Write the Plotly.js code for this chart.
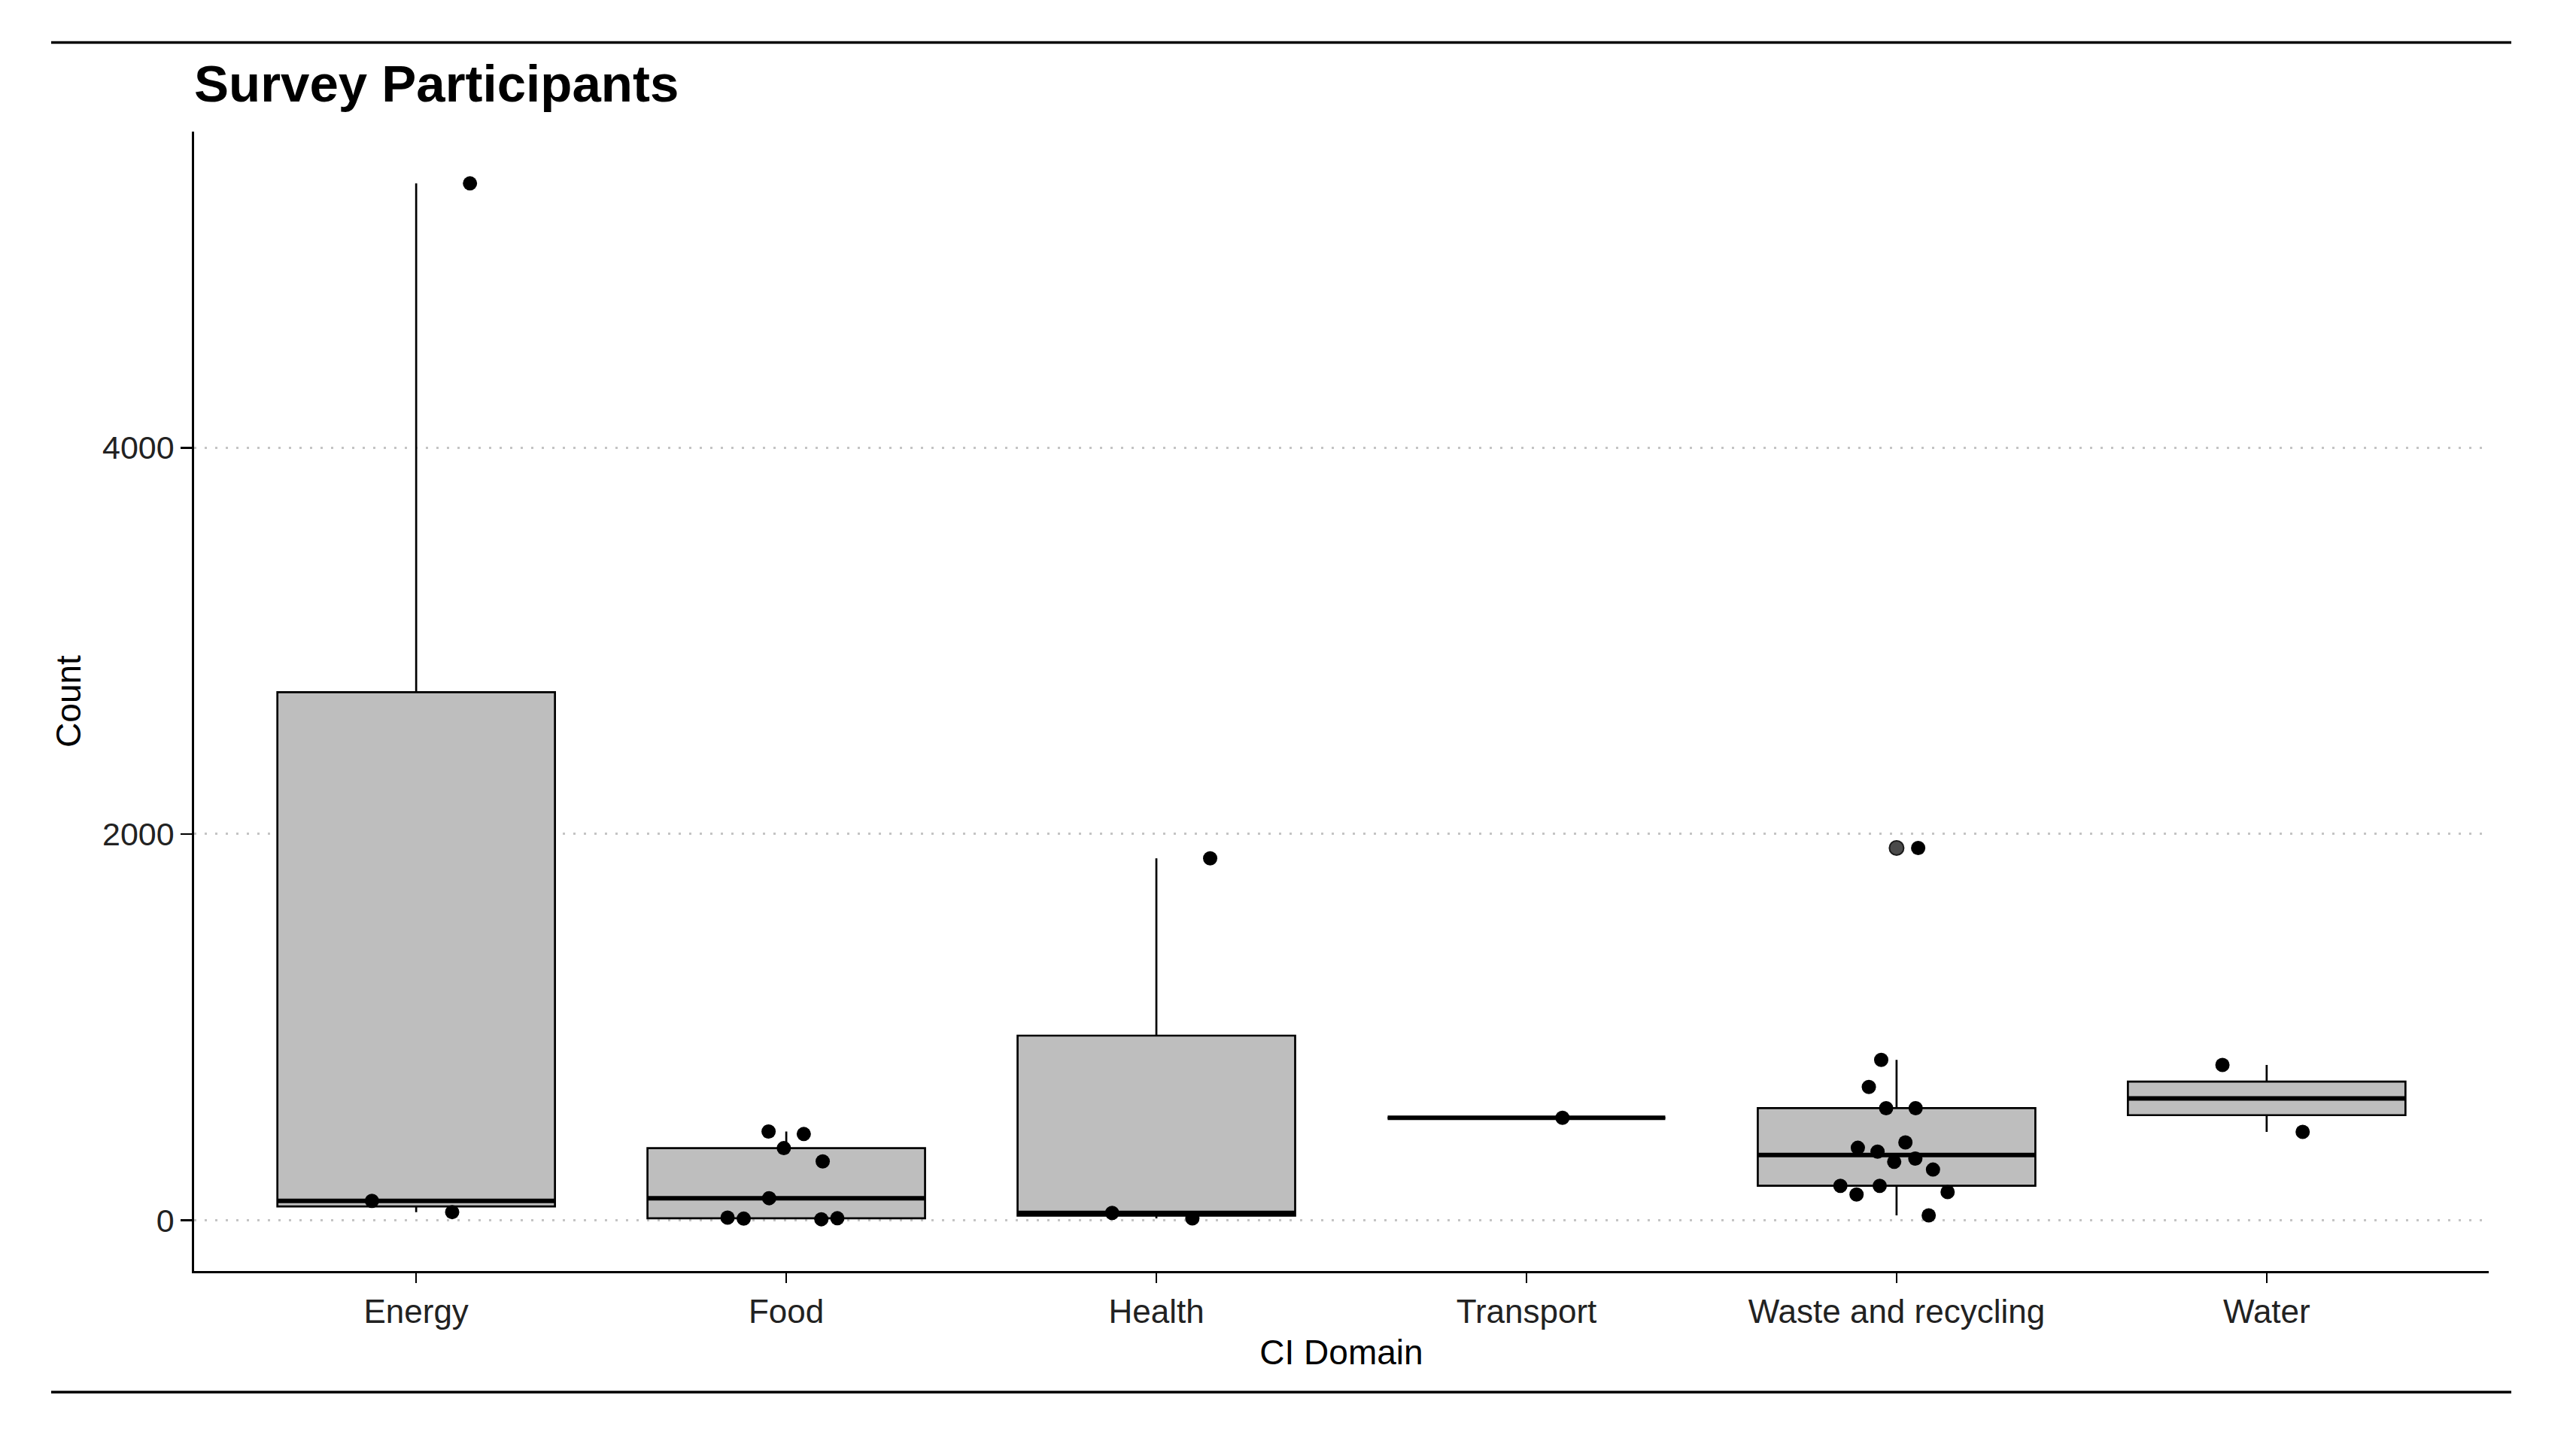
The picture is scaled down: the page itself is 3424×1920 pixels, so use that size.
<!DOCTYPE html>
<html>
<head>
<meta charset="utf-8">
<script src="https://cdn.plot.ly/plotly-3.0.1.min.js"></script>
<style>html,body{margin:0;padding:0;background:#fff;}#chart{width:3424px;height:1920px;}</style>
</head>
<body>
<div id="chart"></div>
<script>
// ---- data ----
const categories = ['Energy', 'Food', 'Health', 'Transport', 'Waste and recycling', 'Water'];
const energy = [43, 101, 5368];
const food = [6, 9, 11, 14, 115, 305, 374, 447, 460];
const health = [10, 39, 1874];
const transport = [531];
const waste = [26, 134, 147, 179, 179, 263, 303, 320, 356, 376, 404, 581, 581, 691, 831, 1928];
const water = [458, 805];
const yTicks = [0, 2000, 4000];
const chartTitle = 'Survey Participants';
const xTitle = 'CI Domain';
const yTitle = 'Count';

const groups = [energy, food, health, transport, waste, water];

// ---- helpers: R type-7 quantiles, as ggplot's geom_boxplot uses ----
function quantile(arr, p) {
  const s = arr.slice().sort((a, b) => a - b);
  const idx = p * (s.length - 1);
  const lo = Math.floor(idx), hi = Math.ceil(idx);
  return s[lo] + (s[hi] - s[lo]) * (idx - lo);
}
function boxStats(vals) {
  const q1 = quantile(vals, 0.25), med = quantile(vals, 0.5), q3 = quantile(vals, 0.75);
  const iqr = q3 - q1;
  const hiF = q3 + 1.5 * iqr, loF = q1 - 1.5 * iqr;
  const inside = vals.filter(v => v >= loF && v <= hiF);
  return {
    q1, med, q3,
    lo: Math.min(...inside), hi: Math.max(...inside),
    out: vals.filter(v => v < loF || v > hiF)
  };
}

const BOX_W = 0.75;
const FONT = 'Liberation Sans, Arial, sans-serif';
const traces = [];
const stats = groups.map(boxStats);
const positions = categories.map((c, i) => i + 1);

// boxes (ggplot statistics)
traces.push({
  type: 'box',
  x: positions,
  q1: stats.map(s => s.q1),
  median: stats.map(s => s.med),
  q3: stats.map(s => s.q3),
  lowerfence: stats.map(s => s.lo),
  upperfence: stats.map(s => s.hi),
  width: BOX_W,
  fillcolor: '#BEBEBE',
  line: { color: '#000000', width: 2.7 },
  whiskerwidth: 0,
  boxpoints: false,
  showlegend: false,
  hoverinfo: 'skip'
});

// thick median bars (ggplot style)
stats.forEach((s, i) => {
  const pos = i + 1;
  traces.push({
    type: 'scatter', mode: 'lines',
    x: [pos - BOX_W / 2, pos + BOX_W / 2],
    y: [s.med, s.med],
    line: { color: '#000000', width: 6 },
    showlegend: false, hoverinfo: 'skip'
  });
});

// boxplot outliers at the centre
const outX = [], outY = [];
stats.forEach((s, i) => s.out.forEach(v => { outX.push(i + 1); outY.push(v); }));
traces.push({
  type: 'scatter', mode: 'markers',
  x: outX, y: outY,
  marker: { color: '#4a4a4a', size: 19, line: { color: '#1a1a1a', width: 2 } },
  showlegend: false, hoverinfo: 'y'
});

// jittered raw points (invisible box, points only)
groups.forEach((vals, i) => {
  const pos = i + 1;
  traces.push({
    type: 'box',
    x: vals.map(() => pos),
    y: vals,
    width: BOX_W,
    fillcolor: 'rgba(0,0,0,0)',
    line: { color: 'rgba(0,0,0,0)', width: 0 },
    whiskerwidth: 0,
    boxpoints: 'all',
    jitter: 0.5,
    pointpos: 0,
    marker: { color: '#000000', size: 19 },
    showlegend: false,
    hoverinfo: 'y'
  });
});

const allVals = groups.flat();
const yMin = Math.min(...allVals), yMax = Math.max(...allVals);
const pad = 0.05 * (yMax - yMin);

const W = 3424, H = 1920;
const L = 258, R = 116, T = 175, B = 230;
const plotW = W - L - R, plotH = H - T - B;
const px = X => (X - L) / plotW;
const py = Y => (H - B - Y) / plotH;

const layout = {
  width: W, height: H,
  margin: { l: L, r: R, t: T, b: B },
  paper_bgcolor: '#ffffff',
  plot_bgcolor: '#ffffff',
  boxmode: 'overlay',
  font: { family: FONT, color: '#1a1a1a' },
  title: {
    text: chartTitle,
    font: { family: FONT, size: 69, color: '#000000', weight: 'bold' },
    xref: 'paper', x: 0.0, xanchor: 'left',
    yref: 'container', y: 1 - 111 / H, yanchor: 'middle'
  },
  xaxis: {
    range: [0.4, 6.6],
    tickmode: 'array',
    tickvals: positions,
    ticktext: categories,
    showgrid: false, zeroline: false,
    showline: true, linecolor: '#000000', linewidth: 2.7,
    ticks: 'outside', ticklen: 13, tickwidth: 2.5, tickcolor: '#000000',
    tickfont: { family: FONT, size: 44, color: '#222222' },
    title: { text: xTitle, font: { family: FONT, size: 46, color: '#000000' }, standoff: 16 }
  },
  yaxis: {
    range: [yMin - pad, yMax + pad],
    tickmode: 'array',
    tickvals: yTicks,
    ticktext: yTicks.map(String),
    showgrid: true, gridcolor: '#C4C4C4', gridwidth: 3, griddash: '3px,11px',
    zeroline: false,
    showline: true, linecolor: '#000000', linewidth: 2.7,
    ticks: 'outside', ticklen: 15, tickwidth: 2.5, tickcolor: '#000000',
    tickfont: { family: FONT, size: 43, color: '#222222' },
    title: { text: yTitle, font: { family: FONT, size: 46, color: '#000000' }, standoff: 14 }
  },
  shapes: [
    { type: 'line', xref: 'paper', yref: 'paper', x0: px(68), x1: px(3338), y0: py(56.5), y1: py(56.5),
      line: { color: '#000000', width: 3.5 } },
    { type: 'line', xref: 'paper', yref: 'paper', x0: px(68), x1: px(3338), y0: py(1851), y1: py(1851),
      line: { color: '#000000', width: 3.5 } }
  ]
};

Plotly.newPlot('chart', traces, layout, { displayModeBar: false, staticPlot: true });
</script>
</body>
</html>
